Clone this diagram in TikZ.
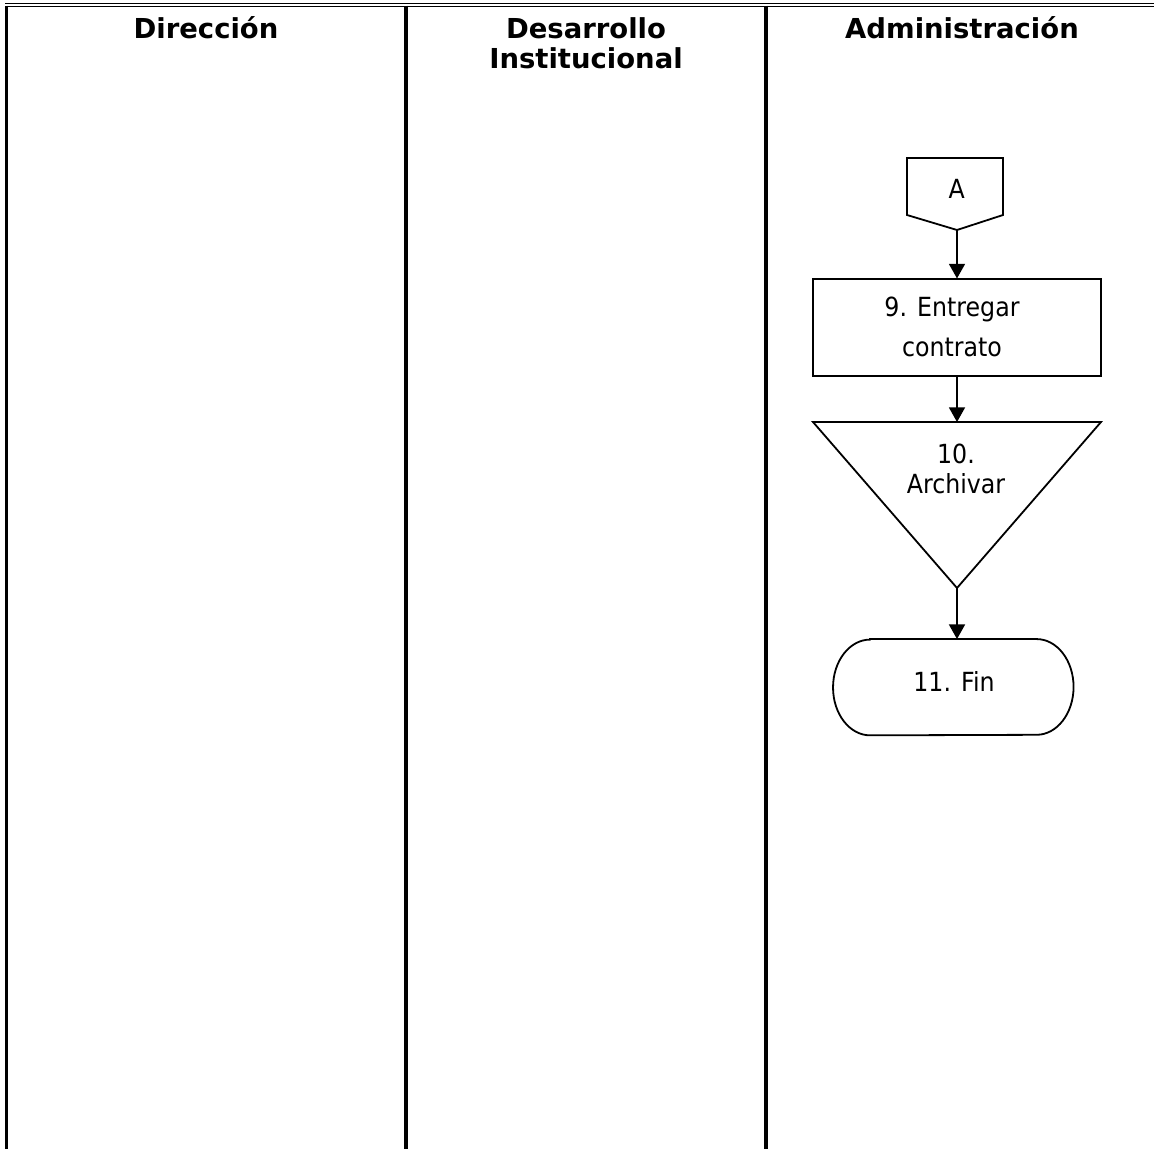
\documentclass[tikz,border=0pt]{standalone}
\usepackage{fontspec}
\setmainfont{DejaVu Sans}
\newfontfamily\bodyfont{DejaVu Sans}[FakeStretch=0.9]
\usetikzlibrary{arrows.meta}

\begin{document}
\begin{tikzpicture}[x=0.75pt, y=-0.75pt, line join=miter,
  lane/.style={line width=2.5pt},
  outline/.style={line width=1.35pt},
  flow/.style={line width=1.3pt, -{Triangle[length=11pt, width=12pt]}},
  head/.style={font=\bfseries\fontsize{20.6pt}{22.5pt}\selectfont, anchor=base, inner sep=0pt},
  body/.style={font=\bodyfont\fontsize{19.75pt}{30pt}\selectfont, align=center, inner sep=0pt},
  bodytight/.style={font=\bodyfont\fontsize{19.75pt}{22.5pt}\selectfont, align=center, inner sep=0pt}]

\useasboundingbox (0,0) rectangle (1154,1149);

% double rule across the top
\draw[line width=1pt] (5,3.7) -- (1154,3.7);
\draw[line width=1.25pt] (5,6.5) -- (1154,6.5);

% lane separators
\draw[lane] (6.7,5.7) -- (6.7,1149);
\draw[lane] (406,5.7) -- (406,1149);
\draw[lane] (766,5.7) -- (766,1149);

% lane titles
\node[head] (h1) at (206,39) {Dirección};
\node[head] (h2) at (586,39) {Desarrollo};
\node[head] (h2b) at (586,69) {Institucional};
\node[head] (h3) at (962,39) {Administración};

% off-page connector A
\coordinate (a1) at (907,158);
\coordinate (a2) at (1003,158);
\coordinate (a3) at (1003,215);
\coordinate (aP) at (957,230);
\coordinate (a5) at (907,215);
\draw[outline] (a1) -- (a2) -- (a3) -- (aP) -- (a5) -- cycle;
\node[body, anchor=base] (A) at (956.7,198) {A};

% step 9: process box
\node[draw, outline, minimum width=216.3pt, minimum height=72.5pt] (b9) at (957,327.7) {};
\node[body] (t9) at (952,327) {9. Entregar\\contrato};

% step 10: archive triangle
\coordinate (tL) at (813,422);
\coordinate (tR) at (1101,422);
\coordinate (tT) at (957,422);
\coordinate (tB) at (957,588);
\draw[outline] (tL) -- (tR) -- (tB) -- cycle;
\node[bodytight] (t10) at (956,469) {10.\\Archivar};

% step 11: terminator
\node[minimum width=180pt, minimum height=71.8pt, inner sep=0pt] (fin) at (953.3,687.2) {};
\draw[outline] ([xshift=27.75pt]fin.north west) -- ([xshift=-27.75pt]fin.north east)
  arc[start angle=90, end angle=-90, x radius=27.75pt, y radius=35.9pt]
  -- ([xshift=27.75pt]fin.south west)
  arc[start angle=270, end angle=90, x radius=27.75pt, y radius=35.9pt] -- cycle;
\node[body, anchor=base] (t11) at (954,691.5) {11. Fin};

% flow
\draw[flow] (aP) -- (aP |- b9.north);
\draw[flow] (b9.south) -- (tT);
\draw[flow] (tB) -- (tB |- fin.north);

\end{tikzpicture}
\end{document}
